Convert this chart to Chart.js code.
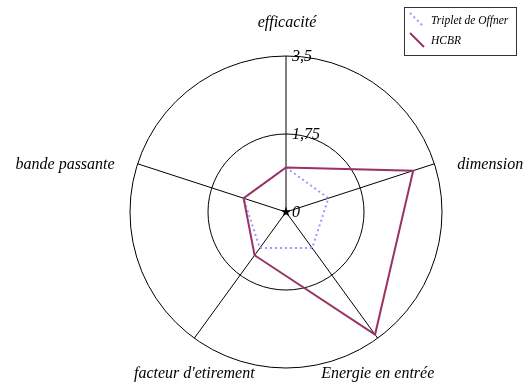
<!DOCTYPE html>
<html><head><meta charset="utf-8">
<script src="https://cdn.jsdelivr.net/npm/chart.js@4"></script>
<style>html,body{margin:0;padding:0;background:#fff}</style>
</head><body>
<canvas id="c" width="527" height="385"></canvas>
<script>
const axes = ["efficacité", "dimension", "Energie en entrée", "facteur d'etirement", "bande passante"];
const seriesNames = ["Triplet de Offner", "HCBR"];
const offnerValues = [1, 1, 1, 1, 1];
const hcbrValues = [1, 3, 3.4, 1.2, 1];
const tickValues = [0, 1.75, 3.5];
const tickLabels = ["0", "1,75", "3,5"];

const SERIF = '"Liberation Serif", "DejaVu Serif", serif';

const overlay = {
  id: 'overlay',
  afterDraw(chart) {
    const ctx = chart.ctx;
    const s = chart.scales.r;
    const R = s.drawingArea;
    ctx.save();
    ctx.fillStyle = '#000';
    ctx.font = 'italic 16px ' + SERIF;
    ctx.textBaseline = 'middle';
    axes.forEach((lab, i) => {
      const p = s.getPointPosition(i, R);
      const dx = p.x - s.xCenter, dy = p.y - s.yCenter;
      let x = p.x, y = p.y, align = 'center';
      if (dy < -0.9 * R) { y = p.y - 33; x = p.x + 1; }
      else if (dy > 0.5 * R) { y = p.y + 36; }
      else if (dx > 0) { x = p.x + 23; y = p.y + 1; align = 'left'; }
      else { x = p.x - 23; y = p.y + 1; align = 'right'; }
      ctx.textAlign = align;
      ctx.fillText(lab, x, y);
    });
    ctx.textAlign = 'left';
    tickValues.forEach((v, i) => {
      const d = s.getDistanceFromCenterForValue(v);
      ctx.fillText(tickLabels[i], s.xCenter + 6, s.yCenter - d + 1);
    });
    // centre star
    ctx.beginPath();
    for (let k = 0; k < 10; k++) {
      const r = k % 2 === 0 ? 5.5 : 2.2;
      const a = -Math.PI / 2 + k * Math.PI / 5;
      const px = s.xCenter + r * Math.cos(a), py = s.yCenter + r * Math.sin(a);
      k === 0 ? ctx.moveTo(px, py) : ctx.lineTo(px, py);
    }
    ctx.closePath();
    ctx.fill();
    // legend
    ctx.strokeStyle = '#333';
    ctx.lineWidth = 1;
    ctx.strokeRect(404.5, 7.5, 112, 48);
    ctx.font = 'italic 11.5px ' + SERIF;
    chart.data.datasets.forEach((ds, i) => {
      const y0 = 13 + i * 20;
      ctx.save();
      ctx.strokeStyle = ds.borderColor;
      ctx.lineWidth = ds.borderWidth;
      ctx.setLineDash(ds.borderDash || []);
      ctx.beginPath();
      ctx.moveTo(410, y0);
      ctx.lineTo(424, y0 + 14);
      ctx.stroke();
      ctx.restore();
      ctx.fillStyle = '#000';
      ctx.fillText(ds.label, 431, y0 + 8);
    });
    ctx.restore();
  }
};

new Chart(document.getElementById('c'), {
  type: 'radar',
  data: {
    labels: axes,
    datasets: [
      { label: seriesNames[0], data: offnerValues, borderColor: '#9999ff', borderWidth: 2, borderDash: [2, 3], fill: false, pointRadius: 0, order: 1 },
      { label: seriesNames[1], data: hcbrValues, borderColor: '#993366', borderWidth: 2, fill: false, pointRadius: 0, order: 0 }
    ]
  },
  options: {
    responsive: false,
    animation: false,
    layout: { padding: { left: 130, right: 85, top: 56, bottom: 17 } },
    plugins: { legend: { display: false }, tooltip: { enabled: false } },
    elements: { line: { tension: 0 } },
    scales: {
      r: {
        min: 0, max: 3.5,
        ticks: { display: false, stepSize: 1.75 },
        afterBuildTicks: (sc) => { sc.ticks = tickValues.map(v => ({ value: v })); },
        grid: { circular: true, color: '#000', lineWidth: 1 },
        angleLines: { color: '#000', lineWidth: 1 },
        pointLabels: { display: false }
      }
    }
  },
  plugins: [overlay]
});
</script>
</body></html>
